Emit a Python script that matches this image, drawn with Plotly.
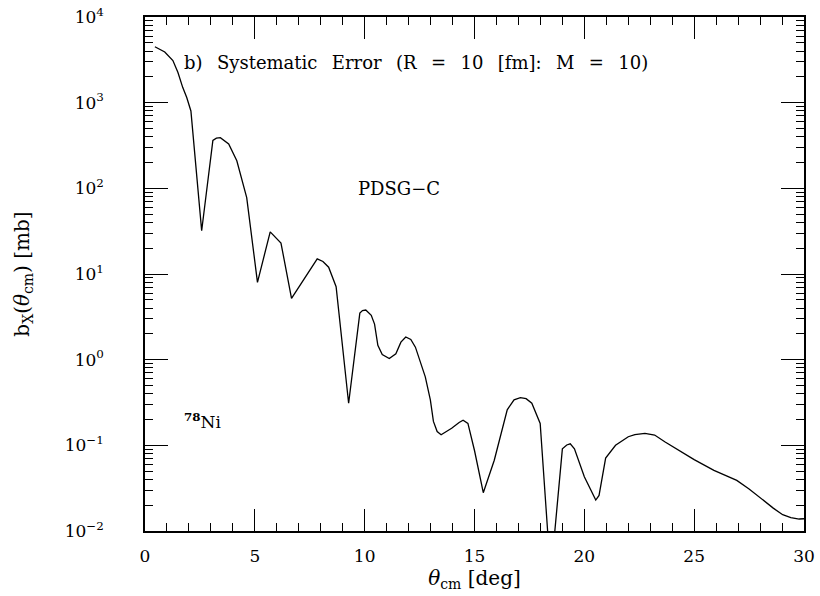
import plotly.graph_objects as go

theta = [0.45, 0.9, 1.27, 1.5, 1.72, 1.9, 2.09, 2.58, 3.09, 3.25, 3.43, 3.81, 4.18, 4.63, 5.12, 5.70, 6.19,
         6.67, 7.84, 8.1, 8.36, 8.70, 9.27, 9.78, 9.9, 10.05, 10.3, 10.45, 10.6, 10.8, 11.12,
         11.42, 11.65, 11.87, 12.1, 12.31, 12.76, 12.99, 13.13, 13.3, 13.48, 13.96, 14.3, 14.48,
         14.7, 15.0, 15.4, 15.9, 16.49, 16.8, 17.09, 17.35, 17.61, 17.99, 18.47, 19.0, 19.2,
         19.36, 19.55, 20.0, 20.52, 20.67, 20.97, 21.42, 22.0, 22.3, 22.76, 23.2, 23.66, 24.3,
         25.0, 25.9, 26.94, 27.5, 28.13, 28.6, 29.03, 29.4, 29.78, 30.0]
bx = [4500, 3900, 3100, 2250, 1500, 1150, 800, 32, 363, 385, 390, 330, 210, 78, 8.0, 31, 23,
      5.2, 15, 14, 12, 7.1, 0.31, 3.5, 3.75, 3.8, 3.3, 2.6, 1.47, 1.15, 1.03,
      1.17, 1.6, 1.84, 1.72, 1.40, 0.63, 0.34, 0.19, 0.145, 0.133, 0.158, 0.185, 0.196,
      0.18, 0.087, 0.028, 0.067, 0.26, 0.34, 0.36, 0.35, 0.31, 0.18, 0.003, 0.091, 0.101,
      0.104, 0.091, 0.043, 0.023, 0.026, 0.071, 0.10, 0.126, 0.133, 0.138, 0.132, 0.11, 0.088,
      0.068, 0.051, 0.039, 0.031, 0.023, 0.0185, 0.0155, 0.0143, 0.0138, 0.0139]

x_major = [0, 5, 10, 15, 20, 25, 30]
x_minor = [v for v in range(0, 31) if v % 5 != 0]
y_major = [1e-2, 1e-1, 1e0, 1e1, 1e2, 1e3, 1e4]
y_major_text = ["10<sup>\u22122</sup>", "10<sup>\u22121</sup>", "10<sup>0</sup>", "10<sup>1</sup>",
                "10<sup>2</sup>", "10<sup>3</sup>", "10<sup>4</sup>"]
y_minor = [m * 10 ** e for e in range(-2, 4) for m in range(2, 10)]

FONT = "DejaVu Serif"
SP = "\u2002\u2009\u200a"  # wide word spacing as in the reference
title_text = SP.join(["b)", "Systematic", "Error", "(R", "=", "10", "[fm]:", "M", "=", "10)"])

fig = go.Figure()
fig.add_trace(go.Scatter(x=theta, y=bx, mode="lines",
                         line=dict(color="black", width=1.3), showlegend=False))

fig.update_layout(
    width=820, height=596,
    margin=dict(l=145, r=5, t=16, b=65),
    paper_bgcolor="white", plot_bgcolor="white",
    font=dict(family=FONT, size=17, color="black"),
)
fig.update_xaxes(
    range=[0, 30], showgrid=False, zeroline=False,
    showline=True, linecolor="black", linewidth=1.5, mirror="ticks",
    tickmode="array", tickvals=x_major, ticktext=[str(v) for v in x_major],
    ticks="inside", ticklen=22, tickwidth=1.3, tickcolor="black",
    minor=dict(tickmode="array", tickvals=x_minor, ticks="inside", ticklen=8,
               tickwidth=1.3, tickcolor="black", showgrid=False),
    ticklabelstandoff=9, ticklabeloverflow="allow",
    title=dict(text="<i>\u03b8</i><sub>cm</sub> [deg]", standoff=6, font=dict(size=20)),
)
fig.update_yaxes(
    type="log", range=[-2, 4], showgrid=False, zeroline=False,
    showline=True, linecolor="black", linewidth=1.5, mirror="ticks",
    tickmode="array", tickvals=y_major, ticktext=y_major_text,
    ticks="inside", ticklen=23, tickwidth=1.3, tickcolor="black",
    minor=dict(tickmode="array", tickvals=y_minor, ticks="inside", ticklen=8,
               tickwidth=1.3, tickcolor="black", showgrid=False),
    ticklabelstandoff=36, ticklabeloverflow="allow",
    title=dict(text="b<sub>X</sub>(<i>\u03b8</i><sub>cm</sub>) [mb]", standoff=30, font=dict(size=20)),
)

fig.add_annotation(xref="paper", yref="paper", x=0.0567, y=0.9107, xanchor="left", yanchor="middle",
                   text=title_text, showarrow=False, font=dict(family=FONT, size=18))
fig.add_annotation(xref="paper", yref="paper", x=0.3209, y=0.666, xanchor="left", yanchor="middle",
                   text="PDSG\u2212C", showarrow=False, font=dict(family=FONT, size=18))
fig.add_annotation(xref="paper", yref="paper", x=0.0567, y=0.2136, xanchor="left", yanchor="middle",
                   text="<sup><b>78</b></sup>Ni", showarrow=False, font=dict(family=FONT, size=17))

fig.write_html("out.html")
